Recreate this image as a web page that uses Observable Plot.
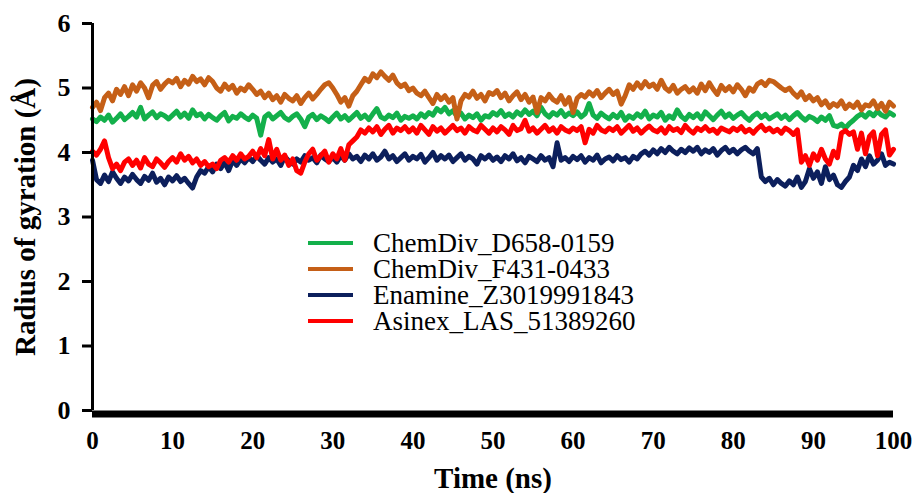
<!DOCTYPE html>
<html>
<head>
<meta charset="utf-8">
<script src="https://cdn.jsdelivr.net/npm/d3@7"></script>
<script src="https://cdn.jsdelivr.net/npm/@observablehq/plot@0.6"></script>
<style>
  html, body { margin: 0; padding: 0; background: #fff; }
  #wrap { position: relative; width: 915px; height: 493px; }
  #legend { position: absolute; left: 308px; top: 230px; font-family: "Liberation Serif", "Times New Roman", Times, serif; font-size: 27px; color: #000; }
  #legend .row { height: 26px; line-height: 26px; display: flex; align-items: center; white-space: nowrap; }
  #legend .sw { width: 45px; height: 4px; margin-right: 20px; flex: none; }
</style>
</head>
<body>
<div id="wrap"><div id="legend"></div></div>
<script>
// Time axis: 0 to 100 ns, sampled every 0.5 ns (201 points per series)
const timeStep = 0.5;
const seriesNames = ["ChemDiv_D658-0159", "ChemDiv_F431-0433", "Enamine_Z3019991843", "Asinex_LAS_51389260"];
const seriesColors = ["#13b04b", "#c55f17", "#0c1f5c", "#ff0000"];
const xTicks = [0, 10, 20, 30, 40, 50, 60, 70, 80, 90, 100];
const yTicks = [0, 1, 2, 3, 4, 5, 6];

const greenD658 = [
  4.52,4.48,4.55,4.50,4.58,4.47,4.53,4.60,4.51,4.56,
  4.62,4.55,4.70,4.52,4.58,4.63,4.54,4.60,4.57,4.52,
  4.58,4.64,4.55,4.61,4.53,4.66,4.57,4.60,4.52,4.59,
  4.54,4.50,4.57,4.62,4.49,4.56,4.53,4.60,4.55,4.51,
  4.58,4.53,4.27,4.55,4.60,4.52,4.57,4.62,4.54,4.50,
  4.56,4.60,4.52,4.40,4.55,4.59,4.51,4.57,4.53,4.48,
  4.55,4.61,4.52,4.57,4.50,4.56,4.62,4.53,4.58,4.51,
  4.60,4.68,4.55,4.52,4.58,4.54,4.61,4.50,4.56,4.53,
  4.57,4.52,4.60,4.55,4.62,4.58,4.68,4.63,4.70,4.60,
  4.65,4.56,4.61,4.52,4.58,4.54,4.60,4.50,4.57,4.55,
  4.62,4.58,4.65,4.56,4.60,4.55,4.63,4.58,4.66,4.59,
  4.64,4.57,4.70,4.60,4.55,4.62,4.58,4.65,4.56,4.61,
  4.57,4.63,4.55,4.60,4.76,4.58,4.53,4.61,4.56,4.52,
  4.59,4.54,4.62,4.50,4.57,4.53,4.60,4.55,4.64,4.52,
  4.58,4.55,4.62,4.50,4.57,4.53,4.66,4.56,4.51,4.59,
  4.54,4.60,4.52,4.63,4.57,4.51,4.58,4.64,4.55,4.60,
  4.53,4.58,4.62,4.55,4.50,4.57,4.61,4.54,4.59,4.52,
  4.56,4.60,4.53,4.58,4.51,4.57,4.62,4.55,4.50,4.56,
  4.53,4.48,4.55,4.50,4.57,4.42,4.40,4.44,4.38,4.45,
  4.50,4.56,4.60,4.55,4.62,4.57,4.64,4.58,4.55,4.62,
  4.58
];

const orangeF431 = [
  4.70,4.78,4.65,4.85,4.92,4.80,4.98,4.90,5.02,4.88,
  5.05,4.95,5.08,5.00,4.85,5.04,5.10,4.98,5.06,5.12,
  5.08,5.15,5.02,5.12,5.06,5.18,5.10,5.14,5.05,5.16,
  5.10,5.00,4.95,5.06,4.98,5.04,4.92,5.00,4.96,5.05,
  4.98,4.90,4.95,4.85,4.92,4.82,4.88,4.78,4.90,4.84,
  4.80,4.88,4.76,4.85,4.92,4.83,4.90,4.98,5.05,5.08,
  5.00,4.90,4.78,4.85,4.72,4.88,4.95,5.05,5.15,5.10,
  5.22,5.16,5.25,5.18,5.12,5.20,5.08,5.02,5.06,4.96,
  5.00,4.92,4.88,4.95,4.85,4.76,4.90,4.82,4.88,4.78,
  4.85,4.52,4.80,4.90,4.86,4.95,4.84,4.90,4.80,4.93,
  4.90,4.96,4.85,4.92,4.80,4.88,4.94,4.82,4.90,4.78,
  4.86,4.62,4.85,4.80,4.90,4.82,4.78,4.88,4.75,4.85,
  4.62,4.84,4.90,4.86,4.94,4.88,4.96,4.85,4.92,4.98,
  4.90,4.95,4.75,4.88,5.05,4.98,5.08,5.00,5.10,5.02,
  5.06,4.98,5.12,5.00,4.95,5.04,4.92,4.98,5.02,4.94,
  5.00,4.92,5.06,4.96,5.08,4.98,4.90,5.04,4.96,5.02,
  4.94,5.05,4.98,4.88,5.00,4.95,5.06,5.10,5.04,5.12,
  5.10,5.05,5.00,4.96,5.00,4.92,4.86,4.94,4.82,4.88,
  4.80,4.85,4.74,4.80,4.70,4.76,4.72,4.80,4.68,4.75,
  4.70,4.78,4.66,4.74,4.72,4.80,4.68,4.76,4.64,4.78,
  4.72
];

const navyZ3019 = [
  3.88,3.58,3.52,3.65,3.55,3.70,3.60,3.52,3.62,3.56,
  3.66,3.58,3.52,3.63,3.57,3.68,3.54,3.60,3.50,3.62,
  3.56,3.64,3.55,3.60,3.52,3.45,3.62,3.72,3.68,3.78,
  3.70,3.82,3.75,3.85,3.72,3.88,3.80,3.90,3.84,3.92,
  3.86,3.95,3.88,3.82,3.92,3.85,3.90,3.80,3.94,3.87,
  3.82,3.90,3.85,3.95,3.88,3.92,3.84,3.96,3.90,3.86,
  3.92,3.85,3.95,3.88,3.98,3.90,3.94,3.86,3.96,3.90,
  3.98,3.88,3.93,4.02,3.90,3.95,3.86,3.92,3.98,3.88,
  3.94,3.90,3.97,3.85,3.92,4.00,3.88,3.95,3.90,3.96,
  3.86,3.92,3.98,3.88,3.94,3.90,3.82,3.95,3.90,3.96,
  3.88,3.93,3.86,3.95,3.90,3.98,3.87,3.92,3.84,3.94,
  3.90,3.86,3.95,3.88,3.92,3.78,4.15,3.88,3.92,3.86,
  3.94,3.89,3.95,3.85,3.92,3.88,3.96,3.84,3.90,3.93,
  3.87,3.95,3.89,3.92,3.85,3.94,3.90,3.98,4.02,3.96,
  4.04,3.98,4.06,4.00,4.08,4.02,3.98,4.05,4.00,4.07,
  4.02,4.08,3.98,4.04,4.00,4.06,3.96,4.03,4.08,4.00,
  4.05,3.98,4.04,4.08,4.02,3.98,4.06,3.62,3.55,3.60,
  3.50,3.58,3.52,3.48,3.56,3.50,3.62,3.46,3.55,3.75,
  3.60,3.70,3.52,3.78,3.58,3.65,3.50,3.46,3.55,3.62,
  3.80,3.72,3.90,3.78,3.95,3.82,3.88,3.98,3.80,3.85,
  3.82
];

const redLAS = [
  4.02,3.96,4.05,4.18,3.92,3.75,3.82,3.72,3.85,3.90,
  3.80,3.88,3.76,3.92,3.82,3.78,3.90,3.84,3.77,3.86,
  3.92,3.85,3.98,3.88,3.94,3.84,3.90,3.80,3.86,3.78,
  3.82,3.75,3.88,3.92,3.85,3.95,3.88,3.98,3.90,3.94,
  4.02,3.92,4.06,3.95,4.20,3.90,4.05,3.88,3.96,3.80,
  3.90,3.72,3.68,3.85,3.98,4.05,3.88,3.95,4.02,3.85,
  3.98,3.90,4.06,3.88,4.12,4.18,4.24,4.35,4.30,4.38,
  4.32,4.40,4.28,4.36,4.42,4.30,4.38,4.34,4.40,4.32,
  4.38,4.30,4.42,4.35,4.28,4.40,4.33,4.38,4.30,4.36,
  4.42,4.34,4.38,4.30,4.40,4.35,4.32,4.42,4.36,4.30,
  4.38,4.32,4.40,4.35,4.28,4.42,4.34,4.37,4.50,4.33,
  4.38,4.30,4.36,4.42,4.33,4.38,4.30,4.40,4.35,4.32,
  4.38,4.34,4.40,4.15,4.36,4.30,4.42,4.35,4.32,4.38,
  4.34,4.40,4.30,4.36,4.42,4.33,4.38,4.30,4.36,4.41,
  4.35,4.32,4.38,4.30,4.40,4.34,4.37,4.31,4.42,4.35,
  4.30,4.38,4.34,4.40,4.33,4.36,4.30,4.38,4.35,4.32,
  4.38,4.34,4.40,4.32,4.36,4.30,4.37,4.42,4.34,4.38,
  4.32,4.36,4.30,4.38,4.34,4.28,4.35,3.85,3.95,3.80,
  3.98,3.88,4.05,3.90,3.82,4.02,3.92,4.30,4.34,4.28,
  4.32,4.05,4.30,3.98,4.25,4.32,3.95,4.28,4.35,3.96,
  4.05
];

const seriesValues = [greenD658, orangeF431, navyZ3019, redLAS];

const rows = seriesValues.flatMap((vals, si) =>
  vals.map((v, i) => ({ series: seriesNames[si], time: i * timeStep, rg: v }))
);

const serif = "'Liberation Serif', 'Times New Roman', Times, serif";

const chart = Plot.plot({
  width: 915,
  height: 493,
  marginLeft: 92,
  marginRight: 22,
  marginTop: 23,
  marginBottom: 83,
  x: { domain: [0, 100] },
  y: { domain: [0, 6] },
  color: { domain: seriesNames, range: seriesColors },
  marks: [
    Plot.line(rows, { x: "time", y: "rg", z: "series", stroke: "series", strokeWidth: 5, strokeLinejoin: "round" }),
    Plot.ruleX([0], { strokeWidth: 3, stroke: "#000" }),
    Plot.ruleY([0], { strokeWidth: 7, stroke: "#000", dy: 3.5 }),
    Plot.axisY({ ticks: yTicks, tickFormat: d => String(d), tickSize: 10, tickPadding: 12, strokeWidth: 3, fontSize: 26, fontWeight: "bold", fontFamily: serif, fill: "#000", label: null }),
    Plot.axisX({ ticks: xTicks, tickFormat: d => String(d), tickSize: 0, tickPadding: 21, fontSize: 25, fontWeight: "bold", fontFamily: serif, fill: "#000", label: null }),
    Plot.text(["Time (ns)"], { text: d => d, frameAnchor: "bottom", dy: 77, fontSize: 29, fontWeight: "bold", fontFamily: serif, fill: "#000" }),
    Plot.text(["Radius of gyration (Å)"], { text: d => d, frameAnchor: "left", textAnchor: "middle", dx: -67, rotate: -90, fontSize: 29, fontWeight: "bold", fontFamily: serif, fill: "#000" })
  ]
});
chart.setAttribute("font-family", serif);

const wrap = document.getElementById("wrap");
wrap.insertBefore(chart, wrap.firstChild);

const legend = document.getElementById("legend");
seriesNames.forEach((name, i) => {
  const row = document.createElement("div");
  row.className = "row";
  const sw = document.createElement("span");
  sw.className = "sw";
  sw.style.background = seriesColors[i];
  const label = document.createElement("span");
  label.textContent = name;
  row.appendChild(sw);
  row.appendChild(label);
  legend.appendChild(row);
});
</script>
</body>
</html>
